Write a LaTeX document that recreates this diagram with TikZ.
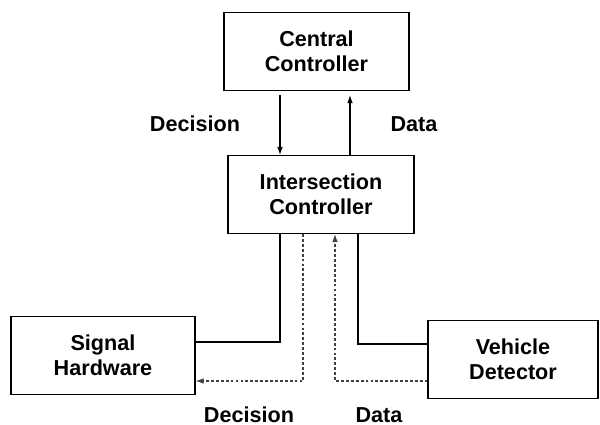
\documentclass[tikz,border=0pt]{standalone}
\usepackage{fontspec}
\setmainfont{Liberation Sans}
\usepackage{tikz}
\usetikzlibrary{arrows.meta,positioning}

\begin{document}
\begin{tikzpicture}[
  every node/.style={font=\fontsize{12.3}{14.2}\selectfont\bfseries},
  ctrlbox/.style={draw,line width=0.6pt,align=center,inner sep=0pt,minimum height=1.56cm},
  post/.style={-{Latex[length=1.6mm,width=1.1mm]}},
  flow/.style={line width=0.6pt},
  signalflow/.style={line width=0.6pt,color=black!75,dash pattern=on 1.6pt off 1.2pt}]
%
\useasboundingbox (0,0) rectangle (12.0cm,8.5cm);
%
\node[ctrlbox,minimum width=3.7cm] (central) at (6.33cm,7.47cm) {Central\\Controller};
\node[ctrlbox,minimum width=3.72cm] (inter) at (6.42cm,4.61cm) {Intersection\\Controller};
\node[ctrlbox,minimum width=3.68cm] (signal) at (2.06cm,1.39cm) {Signal\\Hardware};
\node[ctrlbox,minimum width=3.4cm] (vehicle) at (10.26cm,1.31cm) {Vehicle\\Detector};
%
\node (decup) at (3.9cm,6.02cm) {Decision};
\node (dataup) at (8.28cm,6.02cm) {Data};
\node (decdown) at (4.98cm,0.2cm) {Decision};
\node (datadown) at (7.58cm,0.2cm) {Data};
%
\draw[flow,post,shorten <=0.08cm] ([xshift=-0.73cm]central.south) -- ([xshift=-0.73cm]central.south |- inter.north);
\draw[flow,post,shorten >=0.08cm] ([xshift=0.67cm]central.south |- inter.north) -- ([xshift=0.67cm]central.south);
%
\draw[flow] ([yshift=0.27cm]signal.east) -| ([xshift=-0.82cm]inter.south);
\draw[signalflow,post] ([xshift=-0.36cm]inter.south) |- ([yshift=-0.51cm]signal.east);
\draw[signalflow,post] ([yshift=-0.43cm]vehicle.west) -| ([xshift=0.28cm]inter.south);
\draw[flow] ([yshift=0.31cm]vehicle.west) -| ([xshift=0.74cm]inter.south);
%
\end{tikzpicture}
\end{document}
